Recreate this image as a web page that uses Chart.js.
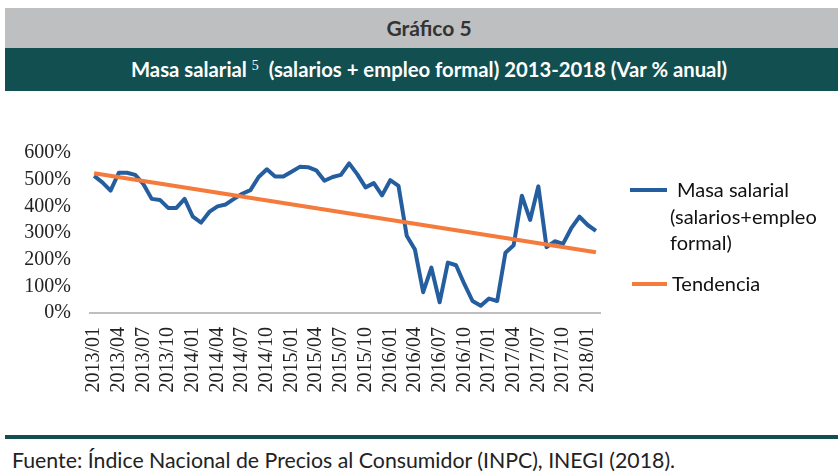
<!DOCTYPE html>
<html>
<head>
<meta charset="utf-8">
<script src="https://cdn.jsdelivr.net/npm/chart.js@4/dist/chart.umd.min.js"></script>
<style>
  body { margin: 0; width: 838px; height: 475px; background: #fff; position: relative; overflow: hidden; }
  .band-gray { position: absolute; left: 5px; top: 8px; width: 833px; height: 40px; background: #BEBFC1; }
  .band-teal { position: absolute; left: 5px; top: 48px; width: 833px; height: 43px; background: #124F50; }
  .head1 { position: absolute; left: 0; top: 8px; width: 858px; height: 40px; line-height: 40px; text-align: center;
           font-family: Lato, sans-serif; font-weight: bold; font-size: 21px; color: #333; }
  .head2 { position: absolute; left: 0; top: 48px; width: 858px; height: 43px; line-height: 43px; text-align: center;
           font-family: Lato, sans-serif; font-weight: bold; font-size: 20.3px; color: #fff; }
  .head2 sup { font-family: "Liberation Serif", serif; font-weight: normal; font-size: 14px; vertical-align: 7px; line-height: 0; }
  #wrap { position: absolute; left: 0; top: 122px; width: 634px; height: 288px; }
  .leg { position: absolute; font-family: Lato, sans-serif; font-size: 20px; color: #111; line-height: 26.5px; }
  .sw { position: absolute; height: 4px; }
  .foot-line { position: absolute; left: 5px; top: 435px; width: 833px; height: 4px; background: #124F50; }
  .foot { position: absolute; left: 12px; top: 447px; font-family: Lato, sans-serif; font-size: 21.3px; color: #222; white-space: nowrap; }
</style>
</head>
<body>
<div class="band-gray"></div>
<div class="band-teal"></div>
<div class="head1">Gráfico 5</div>
<div class="head2">Masa salarial <sup>5</sup>&nbsp; (salarios + empleo formal) 2013-2018 (Var % anual)</div>

<div id="wrap"><canvas id="myChart"></canvas></div>

<div class="sw" style="left:630px; top:188px; width:37px; background:#255E9F;"></div>
<div class="leg" style="left:677px; top:176px;">Masa salarial</div>
<div class="leg" style="left:670px; top:203px;">(salarios+empleo</div>
<div class="leg" style="left:670px; top:229px;">formal)</div>
<div class="sw" style="left:632px; top:282px; width:35px; background:#F47B3C;"></div>
<div class="leg" style="left:672px; top:270px;">Tendencia</div>

<div class="foot-line"></div>
<div class="foot">Fuente: Índice Nacional de Precios al Consumidor (INPC), INEGI (2018).</div>

<script>
// months 2013/01 .. 2018/02
var months = ['2013/01','2013/02','2013/03','2013/04','2013/05','2013/06','2013/07','2013/08','2013/09','2013/10','2013/11','2013/12',
              '2014/01','2014/02','2014/03','2014/04','2014/05','2014/06','2014/07','2014/08','2014/09','2014/10','2014/11','2014/12',
              '2015/01','2015/02','2015/03','2015/04','2015/05','2015/06','2015/07','2015/08','2015/09','2015/10','2015/11','2015/12',
              '2016/01','2016/02','2016/03','2016/04','2016/05','2016/06','2016/07','2016/08','2016/09','2016/10','2016/11','2016/12',
              '2017/01','2017/02','2017/03','2017/04','2017/05','2017/06','2017/07','2017/08','2017/09','2017/10','2017/11','2017/12',
              '2018/01','2018/02'];

// Masa salarial, var % anual
var masa = [514, 490, 459, 526, 526, 518, 483, 428, 424, 394, 394, 428,
            361, 339, 379, 400, 407, 428, 447, 461, 510, 539, 512, 512,
            530, 548, 547, 535, 496, 510, 518, 561, 520, 471, 487, 441,
            498, 477, 290, 238, 78, 170, 40, 189, 179, 109, 45, 27,
            54, 45, 226, 254, 440, 349, 475, 247, 269, 259, 318, 361,
            330, 308];

// linear trend end points (first and last month)
var trendStart = 524;
var trendEnd = 228;

var yTicks = [0, 100, 200, 300, 400, 500, 600];

var trend = months.map(function (m, i) {
    if (i === 0) return trendStart;
    if (i === months.length - 1) return trendEnd;
    return null;
});

var ctx = document.getElementById('myChart').getContext('2d');

var chart = new Chart(ctx, {
    type: 'line',
    data: {
        labels: months,
        datasets: [{
            label: 'Tendencia',
            data: trend,
            borderColor: '#F47B3C',
            borderWidth: 4,
            pointRadius: 0,
            spanGaps: true,
            order: 0
        }, {
            label: 'Masa salarial (salarios+empleo formal)',
            data: masa,
            borderColor: '#255E9F',
            borderWidth: 4,
            borderJoinStyle: 'round',
            pointRadius: 0,
            tension: 0,
            order: 1
        }]
    },
    options: {
        responsive: true,
        maintainAspectRatio: false,
        animation: false,
        layout: { padding: { top: 20, right: 10, left: 0, bottom: 0 } },
        plugins: {
            legend: { display: false },
            tooltip: { enabled: false }
        },
        scales: {
            x: {
                type: 'category',
                offset: true,
                grid: { display: false, drawTicks: false },
                border: { display: true, color: '#BFBFBF', width: 2 },
                ticks: {
                    autoSkip: false,
                    maxRotation: 90,
                    minRotation: 90,
                    padding: 14,
                    color: '#222',
                    font: { family: 'Liberation Serif', size: 20 },
                    callback: function (v, i) { return i % 3 === 0 ? months[i] : ''; }
                },
                afterFit: function (s) { s.height = 97; }
            },
            y: {
                min: 0,
                max: 600,
                afterBuildTicks: function (s) { s.ticks = yTicks.map(function (v) { return { value: v }; }); },
                grid: { display: false, drawTicks: false },
                border: { display: false },
                ticks: {
                    autoSkip: false,
                    padding: 19,
                    color: '#222',
                    font: { family: 'Liberation Serif', size: 20 },
                    callback: function (v) { return v + '%'; }
                },
                afterFit: function (s) { s.width = 90; }
            }
        }
    }
});
</script>
</body>
</html>
